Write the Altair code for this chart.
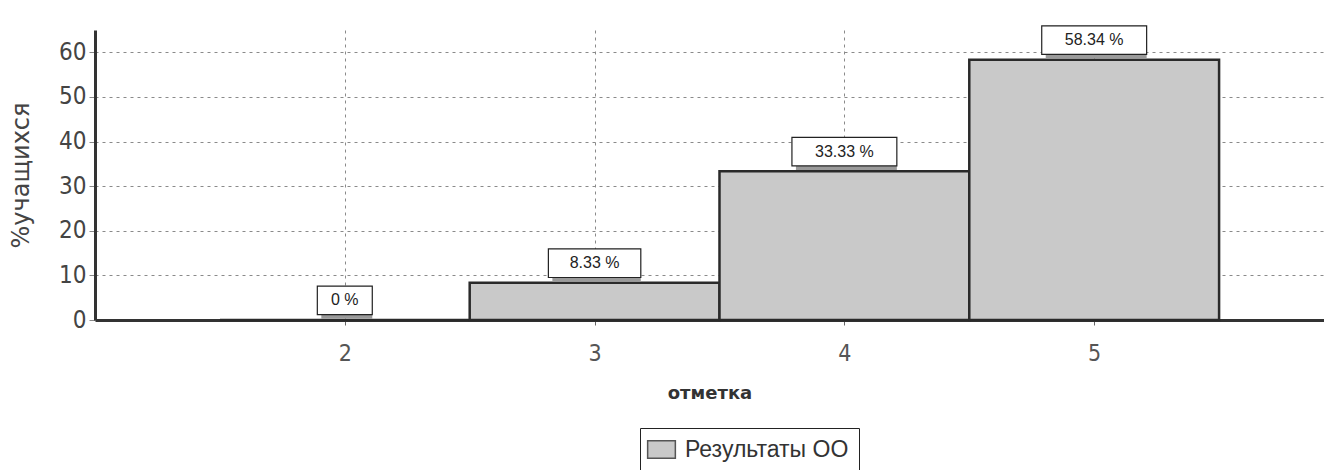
import altair as alt
import pandas as pd

grades = [2, 3, 4, 5]
percents = [0, 8.33, 33.33, 58.34]
labels = ["0 %", "8.33 %", "33.33 %", "58.34 %"]
series = "Результаты ОО"

df = pd.DataFrame({"grade": grades, "pct": percents, "label": labels, "series": [series] * 4})

FONT = "DejaVu Sans Condensed, Liberation Sans, sans-serif"
SANS = "Liberation Sans, Arial, sans-serif"

xscale = alt.Scale(domain=[1, 5.92], nice=False, zero=False)
yscale = alt.Scale(domain=[0, 65], nice=False)

base = alt.Chart(df).transform_calculate(
    lo="datum.grade - 0.5",
    hi="datum.grade + 0.5",
    blo="datum.pct + 1.2",
    bhi="datum.pct + 7.6",
    bmid="datum.pct + 4.4",
    bl="datum.grade - (0.05 * length(datum.label) + 0.07) / 2",
    br="datum.grade + (0.05 * length(datum.label) + 0.07) / 2",
)

bars = base.mark_rect(stroke="#2a2a2a", strokeWidth=2.5).encode(
    x=alt.X("lo:Q", scale=xscale,
            axis=alt.Axis(values=grades, format="d", title="отметка", grid=True, gridDash=[3, 4],
                          gridColor="#8a8a8a", domainColor="#333", domainWidth=3,
                          tickColor="#666", tickSize=5, labelFont=FONT, labelFontSize=23,
                          labelColor="#555", labelPadding=17, titleFont="DejaVu Sans",
                          titleFontSize=18, titleFontWeight="bold", titleColor="#333",
                          titlePadding=19)),
    x2="hi:Q",
    y=alt.Y("pct:Q", scale=yscale,
            axis=alt.Axis(values=[0, 10, 20, 30, 40, 50, 60], title="%учащихся", grid=True,
                          gridDash=[3, 4], gridColor="#8a8a8a", domainColor="#333",
                          domainWidth=3, tickColor="#888", tickSize=6, labelFont=FONT,
                          labelFontSize=24, labelColor="#444", labelPadding=3,
                          titleFont="DejaVu Sans", titleFontSize=24, titleFontWeight="normal",
                          titleColor="#444", titleX=-62)),
    y2=alt.datum(0),
    color=alt.Color("series:N", scale=alt.Scale(range=["#c9c9c9"]),
                    legend=alt.Legend(title=None, orient="none", legendX=545, legendY=398,
                                      strokeColor="#222", fillColor="white", padding=10,
                                      symbolType="M-1.6,-1L1.6,-1L1.6,1L-1.6,1Z",
                                      symbolSize=300, symbolStrokeColor="#555",
                                      symbolStrokeWidth=1.5, labelFont=SANS,
                                      labelFontSize=23, labelColor="#333", labelOffset=12,
                                      labelLimit=400)),
)

shadow = base.mark_rect(color="#9a9a9a", xOffset=4, yOffset=4).encode(
    x="bl:Q", x2="br:Q", y="blo:Q", y2="bhi:Q"
)
box = base.mark_rect(fill="white", stroke="#222", strokeWidth=1.2).encode(
    x="bl:Q", x2="br:Q", y="blo:Q", y2="bhi:Q"
)
text = base.mark_text(font=SANS, fontSize=16, color="#222", baseline="middle").encode(
    x="grade:Q", y="bmid:Q", text="label:N"
)

chart = alt.layer(bars, shadow, box, text).properties(
    width=1229, height=290,
    background="white",
    autosize=alt.AutoSizeParams(type="none"),
    padding={"left": 87, "top": 22, "right": 0, "bottom": 150},
).configure_view(strokeWidth=0, stroke="transparent")

chart.save("out.html", embed_options={"renderer": "svg", "actions": False})
